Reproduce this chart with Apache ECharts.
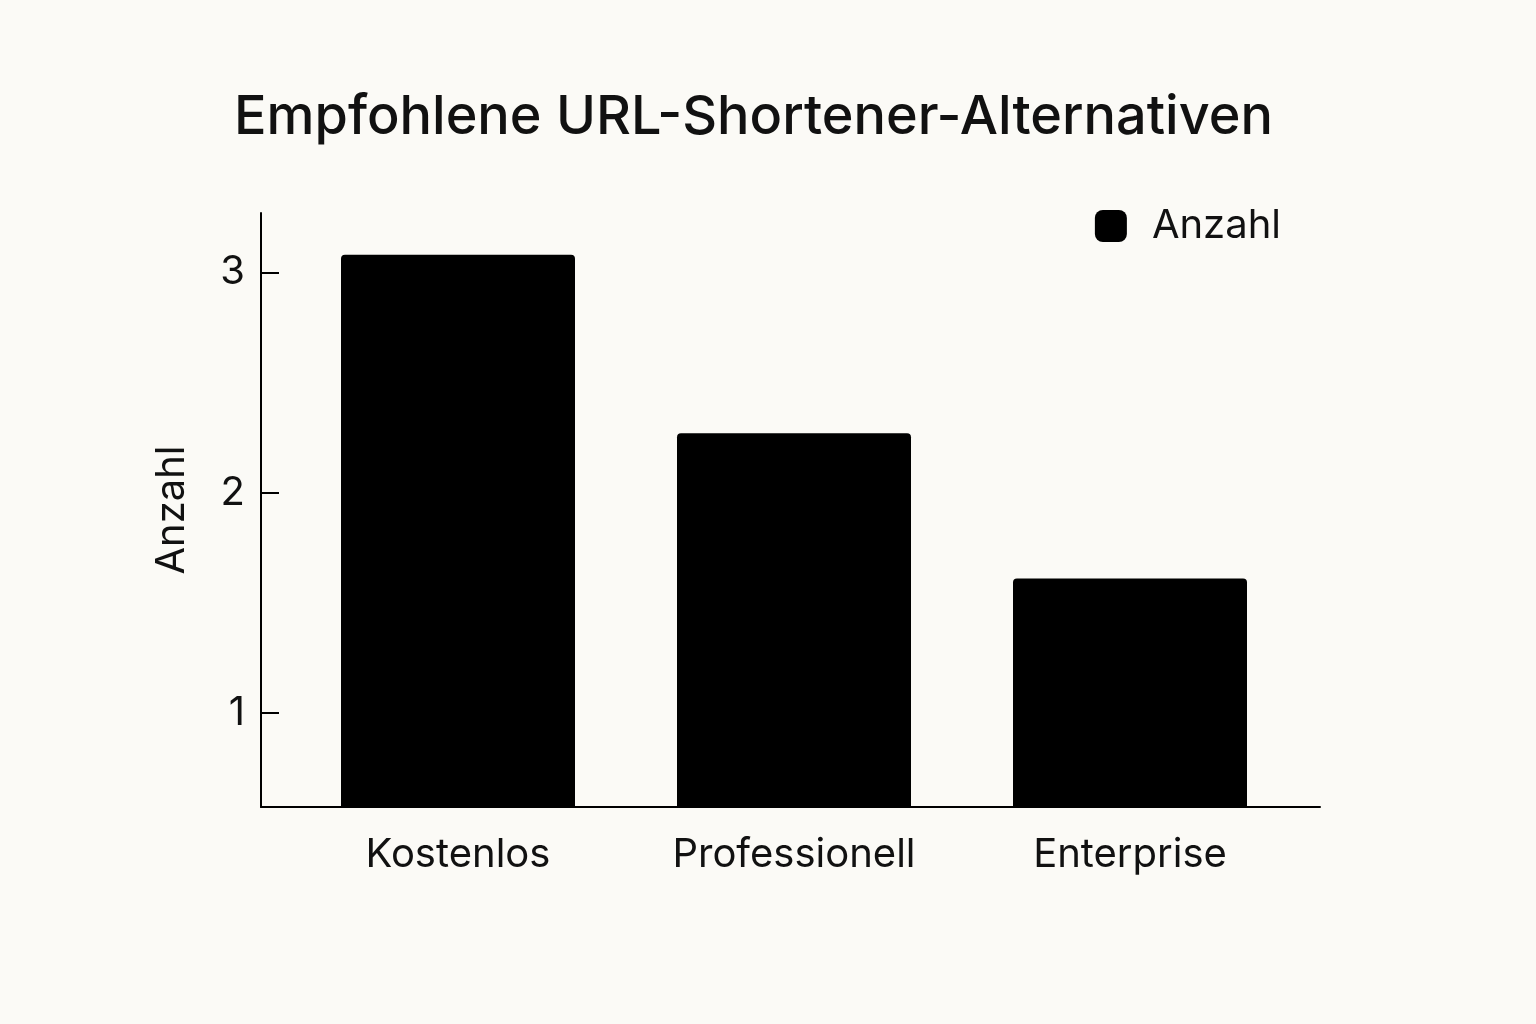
<!DOCTYPE html>
<html>
<head>
<meta charset="utf-8">
<script src="https://cdn.jsdelivr.net/npm/echarts@6/dist/echarts.min.js"></script>
<style>
html,body{margin:0;padding:0;background:#fbfaf6;}
#c{width:1536px;height:1024px;}
</style>
</head>
<body>
<div id="c"></div>
<script>
const categories = ['Kostenlos', 'Professionell', 'Enterprise'];
const values = [3.08, 2.27, 1.61];
const yTicks = [1, 2, 3];
const yMin = 0.573, yMax = 3.27;
const seriesName = 'Anzahl';
const titleText = 'Empfohlene URL-Shortener-Alternativen';

const font = 'Inter, "Noto Sans", sans-serif';
const chart = echarts.init(document.getElementById('c'));
chart.setOption({
  backgroundColor: '#fbfaf6',
  animation: false,
  textStyle: { fontFamily: font, color: '#111' },
  title: {
    text: titleText, left: 229, top: 86,
    textStyle: { fontFamily: font, fontSize: 54, fontWeight: 500, color: '#111' }
  },
  legend: {
    data: [seriesName], right: 250, top: 201,
    itemWidth: 32, itemHeight: 32, icon: 'roundRect',
    textStyle: { fontFamily: font, fontSize: 40, color: '#111', padding: [0, 0, 0, 20] }
  },
  grid: [
    { left: 261, right: 216, top: 213, bottom: 217 },
    { left: 290, right: 238, top: 213, bottom: 217 }
  ],
  xAxis: [
    { type: 'value', gridIndex: 0, min: 0, max: 1,
      axisLine: { show: true, lineStyle: { color: '#000', width: 2 } },
      axisTick: { show: false }, axisLabel: { show: false }, splitLine: { show: false } },
    { type: 'category', gridIndex: 1, data: categories,
      axisLine: { show: false }, axisTick: { show: false }, splitLine: { show: false },
      axisLabel: { fontFamily: font, fontSize: 40, color: '#111', margin: 28 } }
  ],
  yAxis: [
    { type: 'value', gridIndex: 0, min: yMin, max: yMax,
      name: seriesName, nameLocation: 'middle', nameGap: 69,
      nameTextStyle: { fontFamily: font, fontSize: 40, color: '#111' },
      axisLine: { show: true, lineStyle: { color: '#000', width: 2 } },
      axisTick: { show: true, inside: true, length: 18, customValues: yTicks, lineStyle: { color: '#000', width: 2 } },
      axisLabel: { fontFamily: font, fontSize: 40, color: '#111', margin: 16, customValues: yTicks },
      splitLine: { show: false } },
    { type: 'value', gridIndex: 1, min: yMin, max: yMax, show: false, splitLine: { show: false } }
  ],
  series: [{
    name: seriesName, type: 'bar', xAxisIndex: 1, yAxisIndex: 1,
    data: values, barWidth: 234,
    itemStyle: { color: '#000', borderRadius: [4, 4, 0, 0] }
  }]
});
</script>
</body>
</html>
